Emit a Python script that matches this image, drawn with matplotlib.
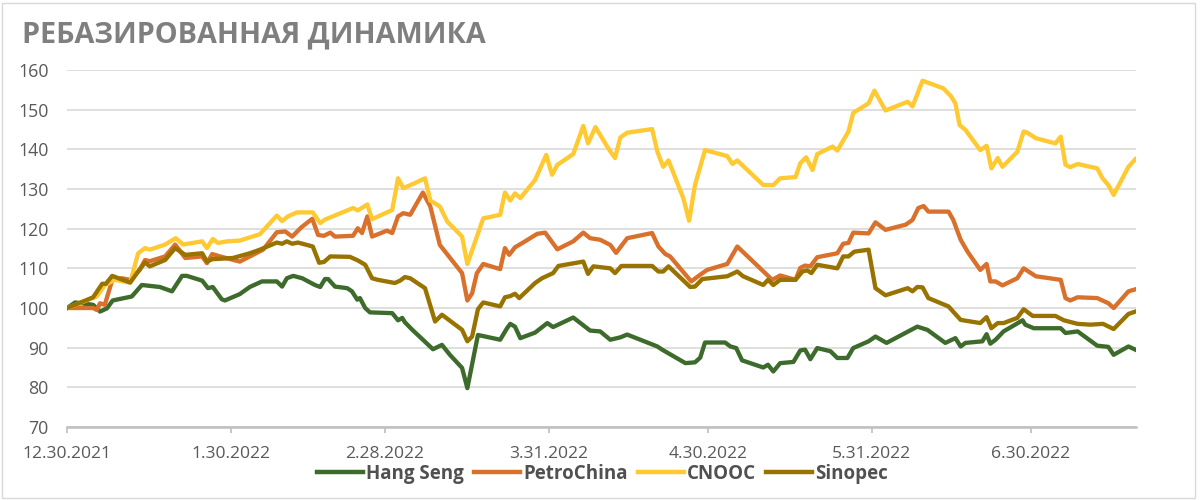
import datetime as dt
import matplotlib
matplotlib.use("Agg")
import matplotlib.pyplot as plt
from matplotlib.patches import Rectangle

start = dt.datetime(2021, 12, 30)

# x values: days after 30.12.2021
hs_days = [0, 1.5, 4.9, 6.2, 7.5, 8.6, 12.2, 14.1, 17.5, 19.8, 21.7, 22.6, 25.5, 26.6, 27.5, 29.2, 29.8,
           32.6, 34.5, 36.8, 39.6, 40.6, 41.5, 42.7, 44.4, 46.8, 47.8, 48.7, 49.3, 50.6, 52.9, 53.8, 54.8,
           55.3, 56.3, 57.2, 61.4, 61.9, 62.5, 63.3, 63.8, 65.2, 67.2, 69.1, 70.8, 72.3, 74.6, 75.6, 77.6,
           81.8, 83.1, 83.7, 84.6, 85.6, 88.4, 90.7, 91.8, 95.6, 98.8, 100.7, 102.6, 104.5, 105.8, 111.5,
           112.4, 116.8, 118.6, 119.6, 120.5, 124.3, 125.3, 126.4, 127.5, 131.5, 132.4, 133.4, 134.7, 137.2,
           138.5, 139.4, 140.4, 141.7, 144.2, 145.5, 147.4, 148.5, 151.4, 152.7, 154.8, 158.9, 160.6, 162.5,
           165.9, 167.8, 168.8, 169.7, 172.9, 173.7, 174.4, 175.4, 176.9, 180.5, 181.0, 182.6, 187.7, 188.6,
           190.9, 194.6, 196.7, 197.7, 200.5, 201.8]
hs_vals = [100, 101.4, 100.8, 99.1, 99.9, 101.9, 102.9, 105.8, 105.3, 104.2, 108.1, 108.1, 106.9, 105, 105.3,
           102.2, 101.9, 103.5, 105.3, 106.7, 106.7, 105.4, 107.5, 108.1, 107.5, 105.8, 105.3, 107.3, 107.3,
           105.4, 105, 104.2, 102.1, 102.5, 100, 98.9, 98.7, 97.9, 96.9, 97.5, 96.4, 94.5, 92, 89.6, 90.7,
           88.2, 84.9, 79.8, 93.2, 92, 94.9, 96, 95.3, 92.4, 93.8, 96.2, 95.2, 97.6, 94.3, 94.1, 92, 92.6,
           93.3, 90.3, 89.5, 86.1, 86.3, 87.5, 91.3, 91.3, 90.3, 89.9, 86.8, 85, 85.7, 84, 86.1, 86.4, 89.3,
           89.5, 87.1, 89.9, 89.1, 87.4, 87.4, 89.9, 91.6, 92.8, 91.2, 94.1, 95.3, 94.5, 91.2, 92.4, 90.3,
           91.2, 91.6, 93.4, 91, 92, 94.1, 96.9, 95.8, 94.9, 94.9, 93.7, 94.1, 90.5, 90.2, 88.2, 90.3, 89.5]

pc_days = [0, 4.9, 5.6, 6.2, 7.1, 8.5, 10.3, 11.9, 13.7, 14.7, 15.6, 18.5, 20.4, 22.3, 25.5, 26.4, 27.4,
           28.9, 32.6, 37.0, 39.6, 41.2, 42.5, 44.2, 46.3, 47.4, 48.5, 49.7, 50.6, 54.0, 54.9, 55.7, 56.7,
           57.6, 60.4, 61.4, 62.5, 63.5, 64.8, 67.2, 68.6, 70.4, 74.6, 75.6, 76.5, 77.4, 78.6, 81.8, 82.7,
           83.5, 84.6, 86.5, 88.8, 90.3, 92.6, 95.6, 97.5, 98.8, 100.7, 102.6, 103.7, 105.8, 110.5, 111.7,
           113.0, 113.9, 117.9, 119.6, 120.9, 124.7, 126.6, 133.2, 134.7, 137.6, 138.5, 139.4, 140.4, 141.7,
           145.5, 146.6, 147.6, 148.5, 151.4, 152.7, 154.6, 158.4, 159.7, 160.8, 161.8, 162.7, 166.5, 167.4,
           168.8, 170.1, 172.5, 173.7, 174.4, 175.4, 176.7, 179.5, 180.7, 183.0, 187.7, 188.6, 189.5, 190.9,
           194.6, 196.7, 197.7, 200.5, 201.8]
pc_vals = [100, 100, 99.5, 101.2, 100.8, 107, 107.5, 107.1, 109.6, 112.1, 111.8, 113, 116, 112.6, 113, 111.3,
           113.6, 113, 111.7, 114.7, 119.1, 119.3, 118, 120.3, 122.5, 118.4, 118.2, 119, 118, 118.2, 120.1,
           118.9, 123.1, 118, 119.5, 118.9, 123.1, 123.9, 123.5, 129.1, 125.6, 115.9, 108.8, 101.9, 103.7,
           108.8, 111.1, 109.8, 115.1, 113.4, 115.3, 116.8, 118.7, 119, 114.8, 116.8, 119, 117.6, 117.2, 115.9,
           113.9, 117.6, 118.9, 115.5, 113.6, 113, 106.7, 108.4, 109.6, 111.1, 115.5, 107.1, 108.2, 107.1,
           110.1, 110.7, 110.5, 112.8, 113.8, 116.2, 116.4, 119, 118.8, 121.6, 119.7, 121, 122.2, 125.2,
           125.7, 124.3, 124.3, 122.2, 117.2, 114.2, 109.6, 111.1, 106.7, 106.7, 105.7, 107.5, 110, 108,
           107.1, 102.5, 101.9, 102.7, 102.5, 101.2, 100, 104.2, 104.7]

cn_days = [0, 5.6, 7.1, 9.0, 11.9, 13.4, 14.7, 15.6, 18.5, 20.5, 21.9, 25.5, 26.4, 27.5, 28.5, 30.2, 32.6,
           36.4, 39.6, 40.6, 41.7, 43.4, 46.4, 47.8, 48.7, 54.0, 54.9, 56.7, 57.6, 61.4, 62.5, 63.5, 65.7,
           67.6, 68.6, 70.4, 71.8, 74.6, 75.6, 78.6, 81.8, 82.7, 83.7, 84.6, 85.6, 88.4, 90.5, 91.6, 92.6,
           95.6, 97.5, 98.4, 99.8, 102.2, 103.5, 104.5, 105.8, 110.5, 111.5, 112.6, 113.6, 116.4, 117.5,
           118.6, 120.5, 124.7, 125.7, 126.6, 131.5, 133.4, 134.7, 137.6, 138.5, 139.6, 140.8, 141.7, 144.6,
           145.5, 147.6, 148.5, 151.4, 152.5, 154.6, 158.8, 159.7, 161.6, 165.5, 166.9, 167.8, 168.6, 169.7,
           172.5, 173.7, 174.6, 175.8, 176.7, 179.5, 180.7, 181.4, 183.0, 186.7, 187.7, 188.6, 189.5, 190.9,
           194.6, 195.6, 196.7, 197.7, 200.5, 201.8]
cn_vals = [100, 102.9, 105.8, 107.1, 106.4, 113.8, 115.1, 114.7, 116, 117.6, 116, 116.8, 115.1, 117.4, 116.4,
           116.8, 117, 118.6, 123.3, 121.9, 123.1, 124.1, 124.1, 121.4, 122.3, 125.2, 124.6, 126.1, 122.4,
           124.7, 132.7, 130.2, 131.5, 132.7, 127.1, 125.6, 121.8, 118, 111.1, 122.6, 123.5, 129.1, 127.1,
           128.9, 127.7, 132.3, 138.6, 133.6, 136.1, 138.8, 145.9, 141.5, 145.6, 140.3, 137.8, 143, 144.2,
           145.1, 139.4, 135.6, 137.2, 127.7, 122, 131, 139.8, 138.3, 136.3, 137.2, 131, 131, 132.7, 133,
           136.5, 138, 134.8, 138.8, 140.7, 139.7, 144.5, 149.2, 151.6, 154.8, 149.8, 152, 150.8, 157.3,
           155.4, 153.5, 151.6, 146.1, 144.9, 139.8, 140.9, 135.2, 137.8, 135.6, 139.4, 144.5, 144.2, 142.8,
           141.5, 143.2, 136.1, 135.5, 136.3, 135.2, 132.7, 131, 128.5, 135.6, 137.5]

sp_days = [0, 4.9, 6.6, 7.3, 8.5, 11.9, 13.4, 14.7, 15.6, 18.5, 20.4, 22.3, 25.5, 26.4, 27.4, 31.3, 34.5,
           36.4, 39.6, 40.6, 41.5, 42.5, 43.6, 46.4, 47.6, 48.5, 49.7, 53.4, 54.9, 56.3, 57.6, 58.7, 61.9,
           62.9, 63.8, 64.8, 67.6, 69.5, 70.8, 74.6, 75.6, 76.5, 77.6, 78.6, 81.8, 82.7, 83.7, 84.6, 85.4,
           88.4, 89.7, 91.8, 92.8, 97.5, 98.4, 99.4, 102.6, 103.5, 104.7, 110.5, 111.7, 112.6, 113.6, 117.7,
           118.6, 120.0, 124.7, 126.6, 127.7, 131.5, 132.4, 133.4, 134.7, 137.6, 138.9, 139.8, 140.6, 141.7,
           145.5, 146.6, 147.6, 148.7, 151.4, 152.7, 154.6, 158.8, 159.7, 160.6, 161.6, 162.7, 166.5, 168.8,
           172.5, 173.7, 174.6, 175.8, 176.9, 179.5, 180.7, 182.4, 186.7, 188.3, 190.9, 193.3, 195.7, 197.7,
           200.5, 201.8]
sp_vals = [100, 102.7, 106.1, 106.1, 108.1, 106.4, 109.2, 111.5, 110.5, 112.1, 115.1, 113.4, 113.8, 111.7,
           112.3, 112.6, 113.8, 114.7, 116.5, 116.2, 116.8, 116.2, 116.5, 115.5, 111.4, 111.6, 113, 112.9, 112,
           110.9, 107.5, 107.1, 106.3, 106.9, 107.8, 107.5, 105, 96.6, 98.3, 94.5, 91.6, 92.8, 99.7, 101.4,
           100.4, 102.7, 103, 103.6, 102.5, 106.3, 107.5, 108.8, 110.6, 111.7, 108.6, 110.5, 110, 108.8, 110.6,
           110.6, 109.2, 109.2, 110.5, 105.3, 105.4, 107.3, 108, 109.2, 108, 105.8, 107.1, 105.8, 107.1, 107.1,
           109.2, 109.5, 108.8, 110.9, 110, 113, 113, 114.2, 114.7, 105, 103.2, 105, 104.2, 105.3, 105.2, 102.5,
           100.4, 97, 96.2, 97.7, 94.9, 96.2, 96.2, 97.5, 99.7, 98, 98, 96.9, 96, 95.8, 96, 94.7, 98.5, 99.1]

names = ["Hang Seng", "PetroChina", "CNOOC", "Sinopec"]
colors = ["#3d6b2c", "#d9702b", "#ffc931", "#987300"]

tick_dates = [dt.datetime(2021, 12, 30), dt.datetime(2022, 1, 30), dt.datetime(2022, 2, 28),
              dt.datetime(2022, 3, 31), dt.datetime(2022, 4, 30), dt.datetime(2022, 5, 31),
              dt.datetime(2022, 6, 30)]
tick_labels = ["12.30.2021", "1.30.2022", "2.28.2022", "3.31.2022", "4.30.2022", "5.31.2022", "6.30.2022"]
end_date = dt.datetime(2022, 7, 20)


def to_dates(days):
    return [start + dt.timedelta(days=d) for d in days]


plt.rcParams["font.family"] = ["Open Sans", "DejaVu Sans"]

fig = plt.figure(figsize=(12, 5), dpi=100)
ax = fig.add_axes([0.056, 0.146, 0.891, 0.714])

series = [(hs_days, hs_vals), (pc_days, pc_vals), (cn_days, cn_vals), (sp_days, sp_vals)]
for (d, v), name, c in zip(series, names, colors):
    ax.plot(to_dates(d), v, color=c, lw=3.1, label=name, solid_joinstyle="round")

ax.set_ylim(70, 160)
ax.set_yticks(range(70, 161, 10))
ax.set_xlim(start, end_date)
ax.set_xticks(tick_dates)
ax.set_xticklabels(tick_labels)
ax.grid(axis="y", color="#d9d9d9", lw=1.2)
ax.set_axisbelow(True)
for s in ["left", "right", "top"]:
    ax.spines[s].set_visible(False)
ax.spines["bottom"].set_color("#bfbfbf")
ax.spines["bottom"].set_linewidth(1.8)
ax.tick_params(axis="y", length=0, pad=13.5, labelsize=12.8, labelcolor="#595959")
ax.tick_params(axis="x", length=4, width=1.2, color="#bfbfbf", pad=10, labelsize=12.6, labelcolor="#595959")

fig.text(0.018, 0.93, "РЕБАЗИРОВАННАЯ ДИНАМИКА", fontsize=20.7, fontweight="bold",
         color="#7f7f7f", va="center", ha="left")

leg = fig.legend(loc="center", bbox_to_anchor=(0.502, 0.052), ncol=4, frameon=False,
                 handlelength=2.45, handletextpad=0.15, columnspacing=0.55,
                 prop={"weight": "bold", "size": 13.5})
for t in leg.get_texts():
    t.set_color("#505050")
for h in leg.get_lines():
    h.set_linewidth(3.2)

fig.patches.append(Rectangle((0.002, 0.004), 0.994, 0.99, transform=fig.transFigure,
                             fill=False, edgecolor="#d9d9d9", lw=1))

fig.savefig("out.png", dpi=100)
